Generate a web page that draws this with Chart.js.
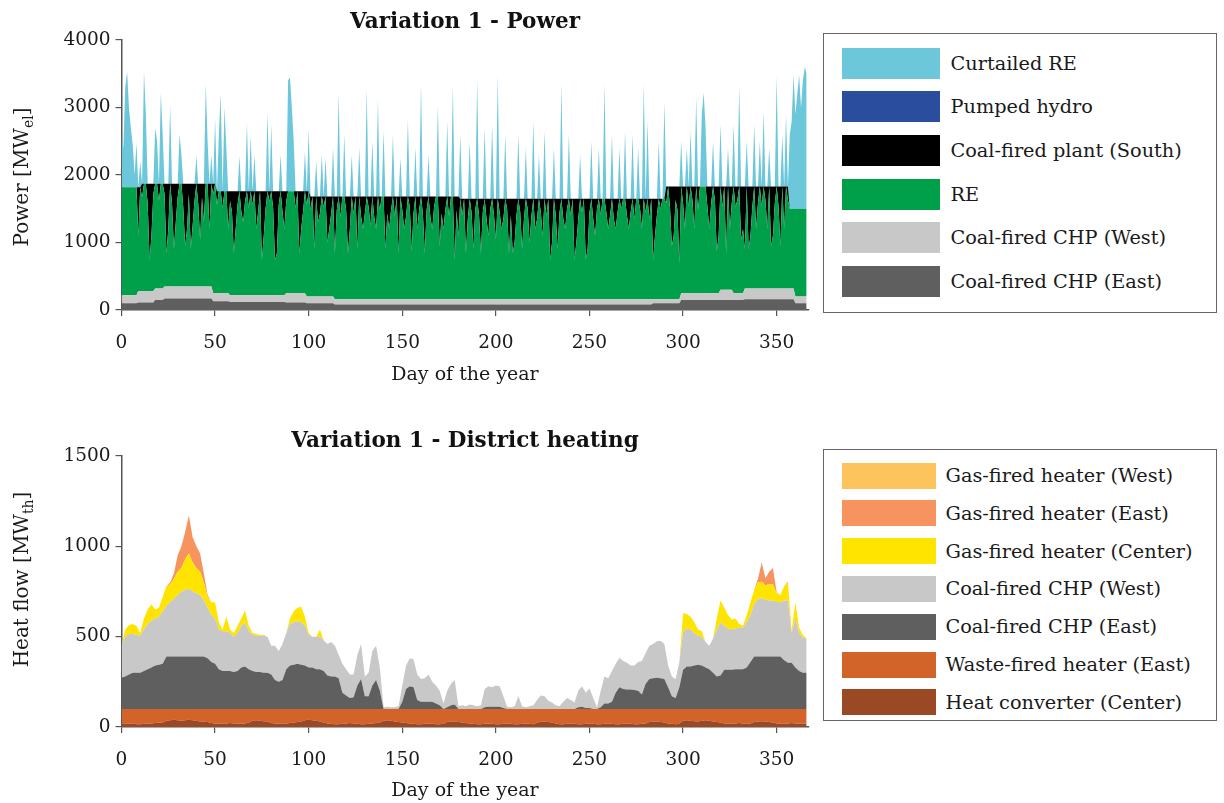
<!DOCTYPE html>
<html><head><meta charset="utf-8">
<script src="https://cdn.jsdelivr.net/npm/chart.js@4.4.1/dist/chart.umd.min.js"></script>
<style>
html,body{margin:0;padding:0;background:#fff;width:1224px;height:803px;overflow:hidden;}
#c1{position:absolute;left:0;top:0;}
#c2{position:absolute;left:0;top:416px;}
.legend{position:absolute;left:823px;width:394px;border:1.5px solid #666;box-sizing:border-box;font-family:'DejaVu Serif';font-size:19.3px;color:#1a1a1a;}
.legend .item{position:absolute;left:17.5px;display:flex;align-items:center;white-space:nowrap;}
.legend .sw{display:inline-block;}
</style></head><body>
<canvas id="c1" width="815" height="400"></canvas>
<canvas id="c2" width="815" height="387"></canvas>
<div id="lg1" class="legend" style="top:33px;height:280px;"></div>
<div id="lg2" class="legend" style="top:449px;height:272px;"></div>
<script>
// ---------- Power chart (daily values, day 0..366) ----------
const powerDays = Array.from({length: 367}, (_, i) => i);
const chpEastPower = [
100,100,100,100,100,100,100,100,100,110, 110,110,110,110,110,110,110,110,150,150,
150,150,150,170,170,170,170,170,170,170, 170,170,170,170,170,170,170,170,170,170,
170,170,170,170,170,170,170,170,170,130, 130,130,130,130,130,130,130,130,120,120,
120,120,120,120,120,120,120,120,120,120, 120,120,120,120,120,120,120,120,120,120,
120,120,120,120,120,120,120,120,110,110, 110,110,110,110,110,110,110,110,110,100,
100,100,100,100,100,100,100,100,100,100, 100,100,100,100,80,80,80,80,80,80,
80,80,80,80,80,80,80,80,80,80, 80,80,80,80,80,80,80,80,80,80,
80,80,80,80,80,80,80,80,80,80, 80,80,80,80,80,80,80,80,80,80,
80,80,80,80,80,80,80,80,80,80, 80,80,80,80,80,80,80,80,80,80,
80,80,80,80,80,80,80,80,80,80, 80,80,80,80,80,80,80,80,80,80,
80,80,80,80,80,80,80,80,80,80, 80,80,80,80,80,80,80,80,80,80,
80,80,80,80,80,80,80,80,80,80, 80,80,80,80,80,80,80,80,80,80,
80,80,80,80,80,80,80,80,80,80, 80,80,80,80,80,80,80,80,80,80,
80,80,80,80,80,80,80,80,80,80, 80,80,80,80,80,80,80,80,80,80,
80,80,80,80,100,100,100,100,100,100, 100,100,100,100,100,100,100,100,100,150,
150,150,150,150,150,150,150,150,150,150, 150,150,150,150,150,150,150,150,150,150,
150,150,150,150,150,150,150,150,150,150, 150,150,150,160,160,160,160,160,160,160,
160,160,160,160,160,160,160,160,160,160, 160,160,160,160,160,160,160,160,160,160,
100,100,100,100,100,100,100];
const chpWestPower = [
120,120,120,120,120,120,120,120,120,170, 170,170,170,170,170,170,170,170,170,170,
170,170,170,180,180,180,180,180,180,180, 180,180,180,180,180,180,180,180,180,180,
180,180,180,180,180,180,180,180,180,120, 120,120,120,120,120,120,120,120,100,100,
100,100,100,100,100,100,100,100,100,100, 100,100,100,100,100,100,100,100,100,100,
100,100,100,100,100,100,100,100,140,140, 140,140,140,140,140,140,140,140,140,100,
100,100,100,100,100,100,100,100,100,100, 100,100,100,100,80,80,80,80,80,80,
80,80,80,80,80,80,80,80,80,80, 80,80,80,80,80,80,80,80,80,80,
80,80,80,80,80,80,80,80,80,80, 80,80,80,80,80,80,80,80,80,80,
80,80,80,80,80,80,80,80,80,80, 80,80,80,80,80,80,80,80,80,80,
80,80,80,80,80,80,80,80,80,80, 80,80,80,80,80,80,80,80,80,80,
80,80,80,80,80,80,80,80,80,80, 80,80,80,80,80,80,80,80,80,80,
80,80,80,80,80,80,80,80,80,80, 80,80,80,80,80,80,80,80,80,80,
80,80,80,80,80,80,80,80,80,80, 80,80,80,80,80,80,80,80,80,80,
80,80,80,80,80,80,80,80,80,80, 80,80,80,80,80,80,80,80,80,80,
80,80,80,80,60,60,60,60,60,60, 60,60,60,60,60,60,60,60,60,100,
100,100,100,100,100,100,100,100,100,100, 100,100,100,100,100,100,100,100,100,100,
150,150,150,150,150,150,150,100,100,100, 100,100,100,160,160,160,160,160,160,160,
160,160,160,160,160,160,160,160,160,160, 160,160,160,160,160,160,160,160,160,160,
100,100,100,100,100,100,100];
const rePower = [
1600,1600,1600,1600,1600,1600,1600,1600,1600,820, 1540,1390,1590,1590,1290,465,820,1440,1550,1550,
1300,1550,1550,1370,490,850,1520,1220,550,950, 1320,1520,1520,1170,600,850,1370,550,900,1270,
1520,1220,690,1320,950,1520,1520,850,1520,1470, 1620,1310,1510,1510,1260,1510,1510,950,1390,1240,
620,980,1340,1540,1240,1080,1390,1540,1290,1540, 1340,1540,980,1240,1540,525,880,1290,1540,1390,
1540,1290,525,620,1340,1540,1240,980,1360,1510, 1510,1510,1510,1260,1510,590,950,1210,1510,1360,
1560,1280,1480,700,1480,1100,1230,1480,1330,1480, 800,1000,1230,1480,680,1320,1520,1220,1520,1520,
1320,680,1040,1520,1270,1520,740,1520,1220,1040, 1270,1520,1370,1090,1520,1220,1040,1520,1320,1520,
1520,740,1270,1040,1320,1520,1220,1520,680,1520, 1320,1040,1220,1520,1370,710,1270,1520,1040,1320,
1520,1270,680,1320,1520,1220,1040,1370,1520,1520, 790,1270,1040,1320,1520,1220,1520,1520,585,1320,
940,1490,1240,1490,680,1190,1490,1290,740,1340, 1490,1240,680,1290,1490,1190,940,1340,1490,1240,
880,1490,1290,1040,1190,1490,1340,680,1240,680, 840,1240,1490,1290,740,1190,1490,1340,840,1240,
1490,1040,1190,1490,1290,940,1490,1240,1490,585, 840,1490,1240,740,1290,1490,1190,1040,1340,1490,
1240,1490,585,840,1190,1490,1290,1490,585,740, 1290,1490,1190,940,1340,1490,1240,1490,1490,1290,
1040,1240,1490,1190,1040,1290,1490,1340,1490,1490, 1240,1040,1290,1490,1190,1490,1490,1340,1040,1490,
1290,1490,1190,1490,585,940,1240,1490,1340,1490, 1490,1420,1670,1370,790,940,1470,1320,530,1580,
1330,950,1580,1280,1580,1380,950,1580,1230,1580, 1580,1580,1580,1280,950,1330,1580,1380,620,850,
1530,1230,1530,540,1530,900,1280,1580,1280,1380, 1580,790,950,580,1510,580,780,1210,1510,880,
1260,1510,1210,1510,1310,880,1510,630,780,1260, 1510,1210,630,1510,880,1510,1310,1180,1180,1180,
1300,1300,1300,1300,1300,1300,1300];
const coalSouth = [
0,0,0,0,0,0,0,0,0,720, 0,200,0,0,300,1125,770,150,0,0,
250,0,0,150,1030,670,0,300,970,570, 200,0,0,350,920,670,150,970,620,250,
0,300,830,200,570,0,0,670,0,150, 0,200,0,0,250,0,0,560,150,300,
920,560,200,0,300,460,150,0,250,0, 200,0,560,300,0,1015,660,250,0,150,
0,250,1015,920,200,0,300,560,150,0, 0,0,0,250,0,920,560,300,0,200,
0,200,0,780,0,380,250,0,150,0, 680,480,250,0,840,200,0,300,0,0,
200,840,480,0,250,0,780,0,300,480, 250,0,150,430,0,300,480,0,200,0,
0,780,250,480,200,0,300,0,840,0, 200,480,300,0,150,810,250,0,480,200,
0,250,840,200,0,300,480,150,0,0, 730,250,480,200,0,300,0,0,935,200,
580,0,250,0,810,300,0,200,750,150, 0,250,810,200,0,300,550,150,0,250,
610,0,200,450,300,0,150,810,250,810, 650,250,0,200,750,300,0,150,650,250,
0,450,300,0,200,550,0,250,0,905, 650,0,250,750,200,0,300,450,150,0,
250,0,905,650,300,0,200,0,905,750, 200,0,300,550,150,0,250,0,0,200,
450,250,0,300,450,200,0,150,0,0, 250,450,200,0,300,0,0,150,450,0,
200,0,300,0,905,550,250,0,150,0, 0,250,0,300,880,730,200,350,1140,0,
250,630,0,300,0,200,630,0,350,0, 0,0,0,300,630,250,0,200,960,730,
0,300,0,990,0,630,250,0,300,200, 0,790,630,930,0,930,730,300,0,630,
250,0,300,0,200,630,0,880,730,250, 0,300,880,0,630,0,200,0,0,0,
0,0,0,0,0,0,0];
const pumpedHydro = [];
const curtailedRE = [
780,580,1480,1710,1180,880,630,180,655,0, 380,0,1670,1030,0,0,0,0,830,630,
0,1350,730,0,0,0,1160,0,0,0, 0,730,430,0,0,0,0,0,0,0,
410,0,0,0,0,1480,630,0,430,0, 960,0,840,1440,0,1240,640,0,0,0,
0,0,0,520,0,0,0,1010,0,820, 0,540,0,0,0,0,0,0,1160,0,
990,0,0,0,0,540,0,0,0,1640, 1690,1240,740,0,0,0,0,0,590,0,
920,0,0,0,520,0,0,630,0,570, 0,0,0,720,0,0,1545,0,0,920,
0,0,0,620,0,0,0,720,0,0, 0,1590,0,0,820,0,0,1445,0,0,
970,0,0,0,0,920,0,0,0,570, 0,0,0,1150,0,0,0,720,0,0,
1670,0,0,0,620,0,0,0,0,1350, 0,0,0,0,1120,0,0,1640,0,0,
0,950,0,0,0,0,850,0,0,0, 1770,0,0,0,1050,0,0,0,1100,0,
0,1820,0,0,0,950,0,0,0,0, 0,0,950,0,0,0,750,0,0,0,
1150,0,0,650,0,0,1000,0,0,0, 0,750,0,0,0,1700,0,0,0,950,
0,0,0,0,0,650,0,0,0,0, 0,850,0,0,0,750,0,0,1710,0,
0,0,950,0,0,0,750,0,0,1000, 0,0,0,950,0,0,750,0,0,1710,
0,1150,0,0,0,0,0,850,0,0, 1430,0,0,0,0,0,0,0,0,670,
0,0,570,0,820,0,0,1320,0,0, 1070,1390,870,0,0,0,670,0,0,0,
920,0,0,0,570,0,0,920,0,0, 1490,0,0,0,670,0,0,0,920,0,
0,670,0,1120,0,0,570,0,0,0, 1640,0,0,770,0,1070,0,1100,1300,1980,
1400,1700,1980,1500,1900,2100,2000];

// ---------- District heating chart (every second day, day 0..366) ----------
const heatDays = Array.from({length: 184}, (_, i) => 2 * i);
const heatConverter = [
15,18,20,20,15,15,18,20,20,22, 25,25,35,38,40,38,35,38,40,38,
35,30,30,28,22,20,18,18,20,22, 20,20,18,20,25,35,38,35,32,30,
22,20,18,18,20,22,25,28,30,38, 40,38,35,30,25,20,18,15,15,18,
20,22,20,18,15,15,18,20,22,25, 35,38,35,30,28,25,22,20,18,15,
15,18,20,18,15,15,18,28,30,30, 28,25,22,20,18,15,15,18,20,18,
15,15,18,20,18,15,15,18,20,18, 15,25,28,30,28,25,20,15,15,18,
20,18,15,15,18,20,18,15,15,18, 20,18,15,15,18,20,18,15,15,18,
20,28,30,30,28,25,20,18,15,18, 35,38,35,32,30,35,38,35,30,28,
25,20,18,18,20,22,20,18,20,28, 30,32,30,28,25,20,18,18,20,22,
20,18,20,18];
const wasteHeater = [
85,82,80,80,85,85,82,80,80,78, 75,75,65,62,60,62,65,62,60,62,
65,70,70,72,78,80,82,82,80,78, 80,80,82,80,75,65,62,65,68,70,
78,80,82,82,80,78,75,72,70,62, 60,62,65,70,75,80,82,85,85,82,
80,78,80,82,85,85,82,80,78,75, 65,62,65,70,72,75,78,80,82,85,
85,82,80,82,85,85,82,72,70,70, 72,75,78,80,82,85,85,82,80,82,
85,85,82,80,82,85,85,82,80,82, 85,75,72,70,72,75,80,85,85,82,
80,82,85,85,82,80,82,85,85,82, 80,82,85,85,82,80,82,85,85,82,
80,72,70,70,72,75,80,82,85,82, 65,62,65,68,70,65,62,65,70,72,
75,80,82,82,80,78,80,82,80,72, 70,68,70,72,75,80,82,82,80,78,
80,82,80,82];
const chpEastHeat = [
172,180,190,200,200,200,210,220,230,240, 245,250,290,290,290,290,290,290,290,290,
290,290,290,280,260,250,220,210,210,210, 205,210,230,235,220,210,205,205,200,200,
190,160,150,160,220,240,245,250,245,240, 230,230,220,220,210,185,180,180,170,90,
75,60,65,130,165,70,70,130,160,100, 0,0,0,0,0,40,110,125,120,50,
40,40,40,40,30,20,0,10,20,25, 0,0,0,0,0,0,0,10,12,12,
12,12,5,0,0,0,0,0,0,0, 0,0,0,0,0,0,0,0,0,0,
0,0,10,12,5,5,0,0,10,30, 30,40,90,120,110,108,108,105,100,80,
140,165,170,172,170,165,120,70,60,120, 217,235,235,240,245,240,230,220,200,180,
185,217,217,217,220,220,220,230,260,290, 290,290,290,290,290,290,290,270,256,256,
230,210,200,200];
const chpWestHeat = [
178,220,225,215,210,205,230,250,260,260, 265,290,280,300,320,340,360,370,375,360,
350,340,310,280,260,250,220,220,220,210, 195,210,230,245,210,200,200,200,205,200,
160,190,170,200,200,230,235,235,235,220, 180,170,180,180,170,175,190,170,130,160,
145,130,125,170,195,110,130,190,190,130, 10,12,10,10,15,90,130,155,155,140,
125,130,150,110,100,80,30,90,120,135, 15,20,15,25,20,15,20,100,113,108,
118,113,65,12,10,15,70,15,10,15, 20,50,75,70,45,35,20,15,40,60,
50,35,90,113,85,110,60,10,90,150, 140,170,160,163,155,147,132,135,160,185,
170,185,190,203,207,195,120,110,105,140, 207,210,205,180,160,160,140,130,190,260,
295,243,228,223,225,230,230,250,260,290, 320,321,315,310,310,302,300,330,344,164,
270,210,195,190];
const gasCenter = [
0,40,50,55,50,15,60,80,90,50, 50,80,110,100,110,130,130,170,195,160,
140,130,100,60,70,90,40,10,80,20, 20,40,40,65,30,10,10,5,5,0,
0,0,0,0,0,30,60,75,85,50, 10,0,0,40,0,0,0,0,0,0,
0,0,0,0,0,0,0,0,0,0, 0,0,0,0,0,0,0,0,0,0,
0,0,0,0,0,0,0,0,0,0, 0,0,0,0,0,0,0,0,0,0,
0,0,0,0,0,0,0,0,0,0, 0,0,0,0,0,0,0,0,0,0,
0,0,0,0,0,0,0,0,0,0, 0,0,0,0,0,0,0,0,0,0,
0,0,0,0,0,0,0,0,0,0, 106,80,70,60,35,30,0,0,0,60,
120,100,75,55,55,20,10,40,70,80, 90,93,80,90,90,48,40,80,100,15,
90,30,15,0];
const gasEast = [
0,0,0,0,0,0,0,0,0,0, 0,0,0,10,30,90,120,150,210,140,
120,100,50,10,0,0,0,0,0,0, 0,0,0,0,0,0,0,0,0,0,
0,0,0,0,0,0,0,0,0,0, 0,0,0,0,0,0,0,0,0,0,
0,0,0,0,0,0,0,0,0,0, 0,0,0,0,0,0,0,0,0,0,
0,0,0,0,0,0,0,0,0,0, 0,0,0,0,0,0,0,0,0,0,
0,0,0,0,0,0,0,0,0,0, 0,0,0,0,0,0,0,0,0,0,
0,0,0,0,0,0,0,0,0,0, 0,0,0,0,0,0,0,0,0,0,
0,0,0,0,0,0,0,0,0,0, 0,0,0,0,0,0,0,0,0,0,
0,0,0,0,0,0,0,0,0,0, 20,106,38,70,90,5,0,0,5,0,
0,0,0,0];
const gasWest = [];

// ---------- helpers ----------
Chart.defaults.font.family = "'DejaVu Serif', serif";
Chart.defaults.color = '#1a1a1a';
const AX = '#555555';

// Draws the y-axis title (from scale options) with real subscripts.
const SUB = {'ₑ': 'e', 'ₗ': 'l', 'ₜ': 't', 'ₕ': 'h'};
const yTitleSub = {
  id: 'yTitleSub',
  afterDraw(chart, args, o) {
    const text = chart.options.scales.y.title.text;
    const ctx = chart.ctx, area = chart.chartArea;
    const runs = [];
    for (const ch of text) {
      const sub = ch in SUB, c = sub ? SUB[ch] : ch;
      if (runs.length && runs[runs.length - 1].sub === sub) runs[runs.length - 1].t += c;
      else runs.push({t: c, sub});
    }
    const fMain = "20px 'DejaVu Serif'", fSub = "14px 'DejaVu Serif'";
    let total = 0;
    runs.forEach(r => { ctx.font = r.sub ? fSub : fMain; r.w = ctx.measureText(r.t).width; total += r.w; });
    ctx.save();
    ctx.translate(o.x, (area.top + area.bottom) / 2 + (o.dy || 0));
    ctx.rotate(-Math.PI / 2);
    ctx.fillStyle = '#1a1a1a'; ctx.textAlign = 'left'; ctx.textBaseline = 'alphabetic';
    let x = -total / 2;
    runs.forEach(r => { ctx.font = r.sub ? fSub : fMain; ctx.fillText(r.t, x, r.sub ? 5 : 0); x += r.w; });
    ctx.restore();
  }
};

function area(label, data, color, fill) {
  return {label, data, backgroundColor: color, borderColor: color, borderWidth: 0,
          fill, pointRadius: 0, pointHoverRadius: 0, tension: 0};
}
function scales(yMax, yStep, yTitle, xHeight, xTitlePad) {
  const tickFont = {family: "'DejaVu Serif', serif", size: 18.5};
  const titleFont = {family: "'DejaVu Serif', serif", size: 19};
  return {
    x: {type: 'linear', min: 0, max: 367,
        ticks: {stepSize: 50, includeBounds: false, autoSkip: false, maxRotation: 0, font: tickFont, color: '#1a1a1a', padding: 16,
                callback: v => String(v)},
        grid: {drawOnChartArea: false, drawTicks: true, tickLength: 6, color: AX, lineWidth: 1.2},
        border: {display: true, color: AX, width: 1.5},
        title: {display: true, text: 'Day of the year', font: titleFont, color: '#1a1a1a', padding: {top: 0, bottom: xTitlePad}},
        afterFit: s => { s.height = xHeight; }},
    y: {type: 'linear', min: 0, max: yMax, stacked: true,
        ticks: {stepSize: yStep, font: tickFont, color: '#1a1a1a', padding: 5, callback: v => String(v)},
        grid: {drawOnChartArea: false, drawTicks: true, tickLength: 6, color: AX, lineWidth: 1.2},
        border: {display: true, color: AX, width: 1.5},
        title: {display: false, text: yTitle},
        afterFit: s => { s.width = 121.5; }}
  };
}
function opts(title, pad, yMax, yStep, yTitle, xHeight, xTitlePad, yTitleDy) {
  return {
    responsive: false, animation: false, devicePixelRatio: 1,
    layout: {padding: {left: 0, right: 6.5, top: 0, bottom: 0}},
    plugins: {
      legend: {display: false}, tooltip: {enabled: false},
      title: {display: true, fullSize: false, text: title, color: '#111',
              font: {family: "'DejaVu Serif', serif", size: 21.5, weight: 'bold', lineHeight: 1.2},
              padding: pad},
      yTitleSub: {x: 28, dy: yTitleDy}
    },
    scales: scales(yMax, yStep, yTitle, xHeight, xTitlePad),
    elements: {line: {borderWidth: 0}}
  };
}

const powerChart = new Chart(document.getElementById('c1'), {
  type: 'line',
  data: {labels: powerDays, datasets: [
    area('Coal-fired CHP (East)', chpEastPower, '#5f5f5f', 'origin'),
    area('Coal-fired CHP (West)', chpWestPower, '#c8c8c8', '-1'),
    area('RE', rePower, '#00a04b', '-1'),
    area('Coal-fired plant (South)', coalSouth, '#000000', '-1'),
    area('Pumped hydro', pumpedHydro, '#2a4e9d', false),
    area('Curtailed RE', curtailedRE, '#6cc7db', 3)
  ]},
  options: opts('Variation 1 - Power', {top: 9.1, bottom: 5.1}, 4000, 1000, 'Power [MWₑₗ]', 90, 14, 2),
  plugins: [yTitleSub]
});

const heatChart = new Chart(document.getElementById('c2'), {
  type: 'line',
  data: {labels: heatDays, datasets: [
    area('Heat converter (Center)', heatConverter, '#9b4824', 'origin'),
    area('Waste-fired heater (East)', wasteHeater, '#d2642a', '-1'),
    area('Coal-fired CHP (East)', chpEastHeat, '#5f5f5f', '-1'),
    area('Coal-fired CHP (West)', chpWestHeat, '#c8c8c8', '-1'),
    area('Gas-fired heater (Center)', gasCenter, '#ffe400', '-1'),
    area('Gas-fired heater (East)', gasEast, '#f6935f', '-1'),
    area('Gas-fired heater (West)', gasWest, '#fdc45e', false)
  ]},
  options: opts('Variation 1 - District heating', {top: 12.1, bottom: 2.1}, 1500, 500, 'Heat flow [MWₜₕ]', 76, 0.5, -12),
  plugins: [yTitleSub]
});

function buildLegend(chart, el, g) {
  chart.data.datasets.slice().reverse().forEach((d, i) => {
    const item = document.createElement('div');
    item.className = 'item';
    item.style.top = (g.first + g.step * i - g.h / 2) + 'px';
    item.style.height = g.h + 'px';
    const s = document.createElement('span');
    s.className = 'sw';
    s.style.width = g.w + 'px'; s.style.height = g.h + 'px'; s.style.background = d.backgroundColor;
    const t = document.createElement('span');
    t.textContent = d.label; t.style.marginLeft = g.gap + 'px';
    item.append(s, t);
    el.append(item);
  });
}
buildLegend(powerChart, document.getElementById('lg1'), {first: 29.2, step: 43.66, h: 31, w: 98, gap: 11});
buildLegend(heatChart, document.getElementById('lg2'), {first: 25.5, step: 37.8, h: 26, w: 94, gap: 10});
</script>
</body></html>
